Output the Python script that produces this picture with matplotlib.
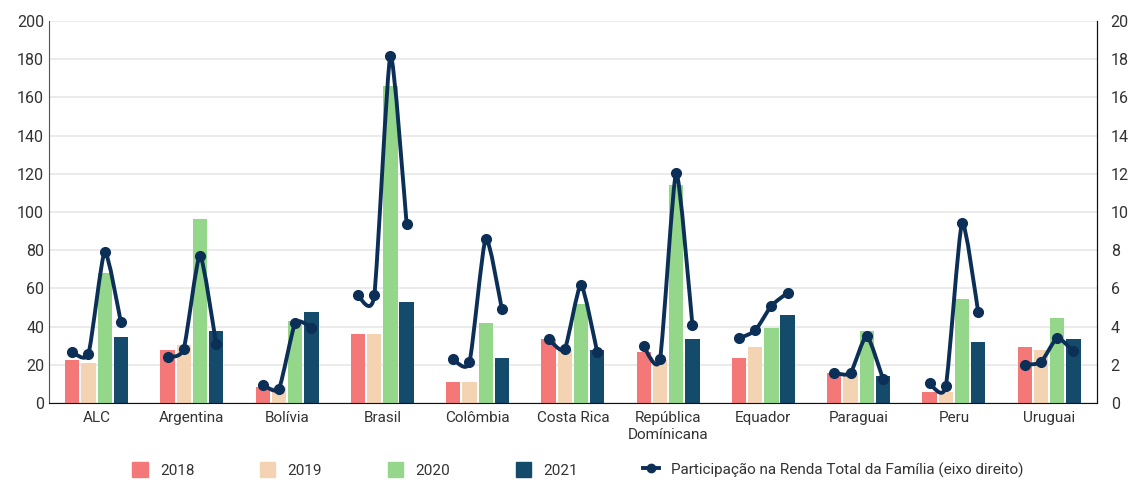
import numpy as np
import matplotlib.pyplot as plt
from matplotlib.path import Path
from matplotlib.patches import PathPatch, Patch
from matplotlib.lines import Line2D

plt.rcParams['font.family'] = ['Roboto', 'DejaVu Sans']

countries = ['ALC', 'Argentina', 'Bolívia', 'Brasil', 'Colômbia', 'Costa Rica',
             'República\nDomínicana', 'Equador', 'Paraguai', 'Peru', 'Uruguai']
years = ['2018', '2019', '2020', '2021']

v2018 = [22.3, 27.9, 8.4, 36.2, 11.1, 33.4, 26.5, 23.7, 15.7, 5.6, 29.3]
v2019 = [20.9, 30.5, 8.4, 36.2, 11.1, 27.9, 22.3, 29.3, 15.7, 5.6, 27.9]
v2020 = [68.3, 96.2, 43.0, 165.9, 41.8, 51.6, 114.1, 39.0, 37.6, 54.4, 44.6]
v2021 = [34.8, 37.6, 47.4, 53.0, 23.7, 27.9, 33.4, 46.0, 13.9, 32.0, 33.4]

# share of total family income (right axis), one value per year per country
share = [
    [2.67, 2.58, 7.90, 4.23],
    [2.40, 2.84, 7.72, 3.10],
    [0.96, 0.75, 4.18, 3.95],
    [5.63, 5.63, 18.17, 9.37],
    [2.28, 2.14, 8.60, 4.91],
    [3.34, 2.82, 6.18, 2.68],
    [2.96, 2.30, 12.04, 4.09],
    [3.38, 3.80, 5.09, 5.77],
    [1.57, 1.57, 3.52, 1.27],
    [1.03, 0.87, 9.40, 4.77],
    [2.00, 2.14, 3.40, 2.70],
]

colors = ['#f47878', '#f3d3b2', '#94d78a', '#144a6a']
line_color = '#0c2f57'


def smooth_path(xs, ys, k=0.1):
    # Catmull-Rom style curve through the points, drawn as cubic bezier segments
    pts = np.column_stack([xs, ys])
    verts = [pts[0]]
    codes = [Path.MOVETO]
    n = len(pts)
    for i in range(n - 1):
        p0 = pts[i - 1] if i > 0 else pts[i]
        p1 = pts[i]
        p2 = pts[i + 1]
        p3 = pts[i + 2] if i + 2 < n else pts[i + 1]
        c1 = p1 + (p2 - p0) * k
        c2 = p2 - (p3 - p1) * k
        verts += [c1, c2, p2]
        codes += [Path.CURVE4] * 3
    return Path(verts, codes)


fig = plt.figure(figsize=(11.33, 4.87), dpi=100)
ax = fig.add_axes([0.0432, 0.1725, 0.9248, 0.7845])
ax2 = ax.twinx()

x = np.arange(len(countries))
width = 0.15
step = 0.17
offsets = (np.arange(4) - 1.5) * step
for vals, col, off, yr in zip([v2018, v2019, v2020, v2021], colors, offsets, years):
    ax.bar(x + off, vals, width, color=col, label=yr, zorder=2)

for i, s in enumerate(share):
    xs = x[i] + offsets
    ax2.add_patch(PathPatch(smooth_path(xs, s), fill=False, edgecolor=line_color,
                            lw=2.8, capstyle='round', joinstyle='round', zorder=3))
    ax2.plot(xs, s, 'o', color=line_color, ms=7, zorder=4)

ax.set_xlim(-0.5, len(countries) - 0.5)
ax.set_ylim(0, 200)
ax.set_yticks(range(0, 201, 20))
ax2.set_ylim(0, 20)
ax2.set_yticks(range(0, 21, 2))
ax.set_xticks(x)
ax.set_xticklabels(countries, fontsize=11, color='#333333')
ax.tick_params(axis='x', length=0, pad=6)
ax.tick_params(axis='y', length=0, labelsize=11.5, labelcolor='#333333')
ax2.tick_params(axis='y', length=0, labelsize=11.5, labelcolor='#333333', pad=10)
ax.yaxis.grid(True, color='#e8e8e8', lw=1.2, zorder=0)
ax.set_axisbelow(True)

for a in (ax, ax2):
    a.spines['top'].set_visible(False)
ax.spines['left'].set_color('#555555')
ax2.spines['right'].set_color('#111111')
ax.spines['bottom'].set_color('#111111')
ax2.spines['left'].set_visible(False)
ax2.spines['bottom'].set_visible(False)

handles = [Patch(color=c) for c in colors]
handles.append(Line2D([], [], color=line_color, lw=2.8, marker='o', ms=6))
labels = years + ['Participação na Renda Total da Família (eixo direito)']
fig.legend(handles, labels, loc='lower center', bbox_to_anchor=(0.51, -0.01),
           ncol=5, frameon=False, fontsize=11, handlelength=1.0, handleheight=1.1,
           columnspacing=4.3, labelcolor='#333333')

fig.savefig('out.png', dpi=100)
